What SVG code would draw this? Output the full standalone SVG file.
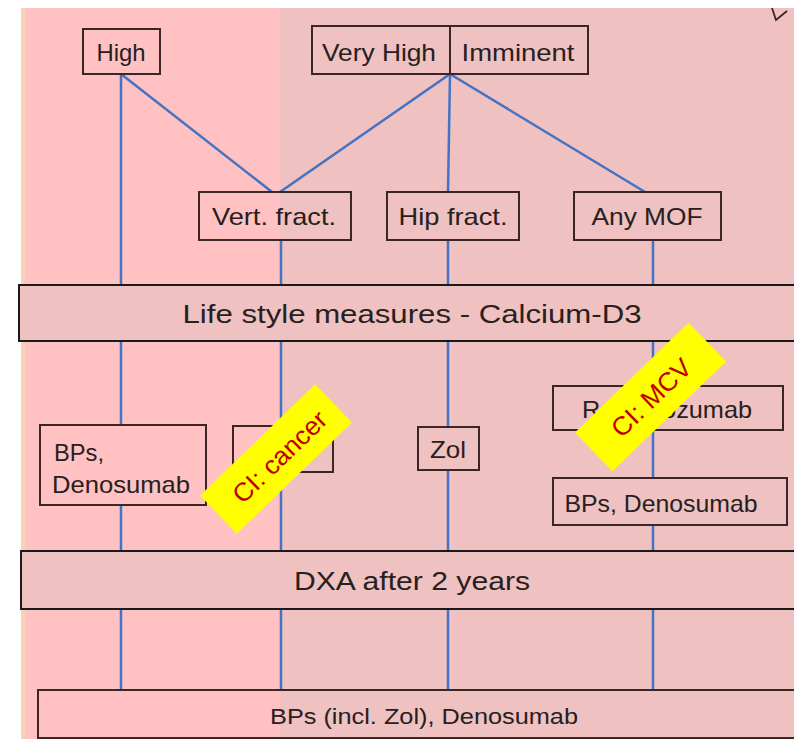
<svg xmlns="http://www.w3.org/2000/svg" width="794" height="739" viewBox="0 0 794 739">
<style>
.box{fill:none;stroke:#3b2626;stroke-width:2}
.bar{fill:#EFC1C1;stroke:#1a1a1a;stroke-width:2}
.t{font-family:"Liberation Sans",Arial,sans-serif;fill:#262020;text-anchor:middle}
.ci{font-family:"Liberation Sans",Arial,sans-serif;fill:#C00000;text-anchor:middle;font-size:26px}
.tag{fill:#FFFF00}
#connectors line{stroke:#4472C4;stroke-width:2.5}
</style>
<rect x="0" y="0" width="794" height="739" fill="#ffffff"/>
<rect x="21" y="8" width="773" height="731" fill="#EFC1C1"/>
<rect x="21" y="8" width="259" height="731" fill="#FFC1C1"/>
<rect x="21" y="8" width="4" height="731" fill="#F7D2B8"/>
<polyline points="772,8 776,20 787,11" fill="none" stroke="#3b2626" stroke-width="1.8"/>

<g id="connectors">
<line x1="121" y1="74" x2="121" y2="285"/>
<line x1="121" y1="74" x2="272" y2="192"/>
<line x1="450" y1="74" x2="280" y2="192"/>
<line x1="450" y1="74" x2="448" y2="192"/>
<line x1="450" y1="74" x2="645" y2="192"/>
<line x1="281" y1="240" x2="281" y2="285"/>
<line x1="448" y1="240" x2="448" y2="285"/>
<line x1="653" y1="240" x2="653" y2="285"/>
<line x1="121" y1="341" x2="121" y2="425"/>
<line x1="281" y1="341" x2="281" y2="551"/>
<line x1="448" y1="341" x2="448" y2="427"/>
<line x1="653" y1="341" x2="653" y2="386"/>
<line x1="121" y1="505" x2="121" y2="551"/>
<line x1="448" y1="470" x2="448" y2="551"/>
<line x1="653" y1="430" x2="653" y2="478"/>
<line x1="653" y1="525" x2="653" y2="551"/>
<line x1="121" y1="609" x2="121" y2="690"/>
<line x1="281" y1="609" x2="281" y2="690"/>
<line x1="448" y1="609" x2="448" y2="690"/>
<line x1="653" y1="609" x2="653" y2="690"/>
</g>

<g id="high">
<rect class="box" x="83" y="29" width="77" height="45"/>
<text class="t" x="121" y="61" font-size="24" textLength="49" lengthAdjust="spacingAndGlyphs">High</text>
</g>
<g id="veryhigh-imminent">
<rect class="box" x="312" y="26" width="276" height="48"/>
<line x1="450" y1="26" x2="450" y2="74" stroke="#3b2626" stroke-width="2"/>
<text class="t" x="379" y="61" font-size="24" textLength="114" lengthAdjust="spacingAndGlyphs">Very High</text>
<text class="t" x="518" y="61" font-size="24" textLength="113" lengthAdjust="spacingAndGlyphs">Imminent</text>
</g>
<g id="vert">
<rect class="box" x="199" y="192" width="152" height="48"/>
<text class="t" x="274" y="225" font-size="24" textLength="124" lengthAdjust="spacingAndGlyphs">Vert. fract.</text>
</g>
<g id="hip">
<rect class="box" x="387" y="192" width="132" height="48"/>
<text class="t" x="453" y="225" font-size="24" textLength="109" lengthAdjust="spacingAndGlyphs">Hip fract.</text>
</g>
<g id="mof">
<rect class="box" x="574" y="192" width="147" height="48"/>
<text class="t" x="647" y="225" font-size="24" textLength="111" lengthAdjust="spacingAndGlyphs">Any MOF</text>
</g>
<g id="lifestyle">
<rect class="bar" x="19" y="285" width="790" height="56"/>
<text class="t" x="412" y="323" font-size="26" textLength="459" lengthAdjust="spacingAndGlyphs">Life style measures - Calcium-D3</text>
</g>
<g id="bps-left">
<rect class="box" x="40" y="425" width="166" height="80"/>
<text class="t" x="79" y="461" font-size="24" textLength="50" lengthAdjust="spacingAndGlyphs">BPs,</text>
<text class="t" x="121" y="493" font-size="24" textLength="138" lengthAdjust="spacingAndGlyphs">Denosumab</text>
</g>
<g id="teri">
<rect class="box" x="233" y="426" width="100" height="46"/>
<text class="t" x="279" y="460" font-size="24">Teri</text>
</g>
<g id="zol">
<rect class="box" x="418" y="427" width="61" height="43"/>
<text class="t" x="448" y="458" font-size="24" textLength="36" lengthAdjust="spacingAndGlyphs">Zol</text>
</g>
<g id="romo">
<rect class="box" x="553" y="386" width="230" height="44"/>
<text class="t" x="667" y="418" font-size="24" textLength="170" lengthAdjust="spacingAndGlyphs">Romosozumab</text>
</g>
<g id="bps-right">
<rect class="box" x="553" y="478" width="234" height="47"/>
<text class="t" x="661" y="512" font-size="24" textLength="193" lengthAdjust="spacingAndGlyphs">BPs, Denosumab</text>
</g>
<g id="dxa">
<rect class="bar" x="21" y="551" width="790" height="58"/>
<text class="t" x="412" y="590" font-size="26" textLength="236" lengthAdjust="spacingAndGlyphs">DXA after 2 years</text>
</g>
<g id="final">
<rect class="box" x="38" y="690" width="770" height="48"/>
<text class="t" x="424" y="724" font-size="22" textLength="308" lengthAdjust="spacingAndGlyphs">BPs (incl. Zol), Denosumab</text>
</g>
<g id="ci-cancer" transform="translate(276,459) rotate(-44)">
<rect class="tag" x="-80" y="-26.5" width="160" height="53"/>
<text class="ci" x="4" y="10" textLength="120" lengthAdjust="spacingAndGlyphs">CI: cancer</text>
</g>
<g id="ci-mcv" transform="translate(650.5,397) rotate(-44)">
<rect class="tag" x="-79" y="-27" width="158" height="54"/>
<text class="ci" x="0" y="10" textLength="100" lengthAdjust="spacingAndGlyphs">CI: MCV</text>
</g>
</svg>
